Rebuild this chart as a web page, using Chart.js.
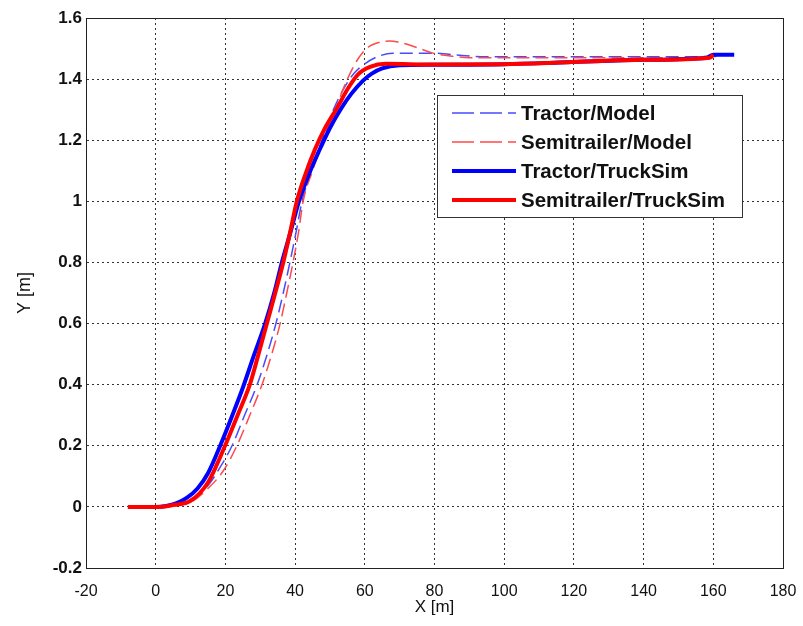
<!DOCTYPE html>
<html>
<head>
<meta charset="utf-8">
<title>Lateral path</title>
<script src="https://cdn.jsdelivr.net/npm/chart.js@4.4.1/dist/chart.umd.min.js"></script>
<style>
  html, body { margin: 0; padding: 0; background: #fff; }
  #wrap { width: 803px; height: 626px; position: relative; }
</style>
</head>
<body>
<div id="wrap"><canvas id="pathChart" width="803" height="626"></canvas></div>
<script>
// tick labels
const xTickLabels = ['-20', '0', '20', '40', '60', '80', '100', '120', '140', '160', '180'];
const yTickLabels = ['-0.2', '0', '0.2', '0.4', '0.6', '0.8', '1', '1.2', '1.4', '1.6'];

// Tractor / model (dashed)
const tractorModelX = [0, 5, 10, 15, 18.5, 21.9, 25.5, 29.1, 32, 34.5, 36.6, 38.5, 40.3, 42, 45, 48, 51, 54, 57, 60, 64, 68, 80, 88, 95, 120, 140, 160, 163];
const tractorModelY = [0, 0.005, 0.02, 0.07, 0.13, 0.2, 0.3, 0.4, 0.5, 0.6, 0.7, 0.8, 0.9, 1.0, 1.11, 1.21, 1.3, 1.37, 1.42, 1.45, 1.475, 1.485, 1.485, 1.477, 1.473, 1.473, 1.473, 1.474, 1.48];

// Semitrailer / model (dashed)
const semiModelX = [0, 5, 10, 15, 19.5, 23.3, 27, 30.5, 33.3, 35.7, 37.6, 39.4, 41, 42.3, 45, 48, 51.5, 55, 58, 61, 64, 67.2, 70, 73, 76.5, 79.6, 85, 90, 120, 140, 160];
const semiModelY = [0, 0.003, 0.015, 0.06, 0.12, 0.2, 0.3, 0.4, 0.5, 0.6, 0.7, 0.8, 0.9, 1.0, 1.1, 1.2, 1.3, 1.4, 1.465, 1.505, 1.52, 1.525, 1.52, 1.511, 1.497, 1.485, 1.475, 1.47, 1.47, 1.47, 1.47];

// Tractor / TruckSim
const tractorSimX = [-7.5, 0, 3, 6, 9, 12, 15, 18.5, 22, 25, 28, 31.4, 34, 36.2, 38.7, 41.1, 44, 47, 50, 53, 56, 59.5, 62, 65, 70, 80, 100, 118, 140, 158, 160, 166];
const tractorSimY = [0, 0, 0.003, 0.012, 0.03, 0.06, 0.11, 0.2, 0.3, 0.39, 0.49, 0.6, 0.7, 0.8, 0.9, 1.0, 1.09, 1.168, 1.24, 1.3, 1.35, 1.395, 1.418, 1.435, 1.445, 1.447, 1.449, 1.455, 1.463, 1.47, 1.48, 1.48];

// Semitrailer / TruckSim
const semiSimX = [-8, 1, 5, 10, 15, 19.9, 23.5, 27, 29.5, 31.9, 34.3, 36.6, 38.6, 40.5, 43, 45.7, 48.6, 52, 55.2, 58, 61.5, 66, 80, 100, 118, 140, 159, 160];
const semiSimY = [0, 0, 0.006, 0.02, 0.08, 0.2, 0.3, 0.4, 0.5, 0.6, 0.7, 0.8, 0.9, 1.0, 1.09, 1.17, 1.24, 1.305, 1.37, 1.415, 1.44, 1.45, 1.448, 1.449, 1.455, 1.463, 1.47, 1.48];

const pts = (xs, ys) => xs.map((x, i) => ({ x, y: ys[i] }));

const datasets = [
  { label: 'Tractor/Model', data: pts(tractorModelX, tractorModelY), borderColor: '#4a4aff', borderWidth: 1.5, borderDash: [13, 6], order: 3 },
  { label: 'Semitrailer/Model', data: pts(semiModelX, semiModelY), borderColor: '#ff4a4a', borderWidth: 1.5, borderDash: [13, 6], order: 2 },
  { label: 'Tractor/TruckSim', data: pts(tractorSimX, tractorSimY), borderColor: '#0000ff', borderWidth: 4, order: 1 },
  { label: 'Semitrailer/TruckSim', data: pts(semiSimX, semiSimY), borderColor: '#ff0000', borderWidth: 4, order: 0 }
].map(d => Object.assign({ showLine: true, pointRadius: 0, fill: false, cubicInterpolationMode: 'monotone', borderCapStyle: 'butt' }, d));

// full box around the axes plus a boxed legend in the upper right
const frameAndLegend = {
  id: 'frameAndLegend',
  afterDatasetsDraw(chart) {
    const { ctx, chartArea: a } = chart;
    ctx.save();
    ctx.strokeStyle = '#222';
    ctx.lineWidth = 1;
    ctx.strokeRect(a.left + 0.5, a.top + 0.5, a.right - a.left, a.bottom - a.top);

    const box = { x: 437, y: 95, w: 305, h: 122 };
    ctx.fillStyle = '#fff';
    ctx.fillRect(box.x, box.y, box.w, box.h);
    ctx.strokeStyle = '#333';
    ctx.strokeRect(box.x + 0.5, box.y + 0.5, box.w, box.h);

    const rows = [113, 142, 171, 200];
    ctx.font = 'bold 20.5px "Liberation Sans", Arial, sans-serif';
    ctx.textBaseline = 'middle';
    chart.data.datasets.forEach((ds, i) => {
      const y = rows[i];
      ctx.beginPath();
      ctx.strokeStyle = ds.borderColor;
      ctx.lineWidth = ds.borderDash ? 1.5 : 4;
      ctx.setLineDash(ds.borderDash ? [22, 6] : []);
      ctx.moveTo(452, y);
      ctx.lineTo(516, y);
      ctx.stroke();
      ctx.setLineDash([]);
      ctx.fillStyle = '#111';
      ctx.fillText(ds.label, 521, y + 1);
    });
    ctx.restore();
  }
};

new Chart(document.getElementById('pathChart').getContext('2d'), {
  type: 'scatter',
  data: { datasets },
  plugins: [frameAndLegend],
  options: {
    responsive: false,
    animation: false,
    layout: { padding: { top: 18, right: 20, left: 0, bottom: 0 } },
    plugins: { legend: { display: false }, tooltip: { enabled: false } },
    scales: {
      x: {
        type: 'linear',
        min: -20, max: 180,
        afterFit: s => { s.height = 58; s.paddingLeft = 0; s.paddingRight = 0; },
        ticks: {
          stepSize: 20,
          color: '#111',
          padding: 14,
          font: { family: '"Liberation Sans", Arial, sans-serif', size: 16 },
          callback: (v, i) => xTickLabels[i]
        },
        grid: { color: '#333', lineWidth: 1, drawTicks: false },
        border: { display: true, color: '#222', dash: [2, 3] },
        title: {
          display: true, text: 'X [m]', color: '#111',
          font: { family: '"Liberation Sans", Arial, sans-serif', size: 17 },
          padding: { top: 0, bottom: 8 }
        }
      },
      y: {
        type: 'linear',
        min: -0.2, max: 1.6,
        afterFit: s => { s.width = 86; s.paddingTop = 0; s.paddingBottom = 0; },
        ticks: {
          stepSize: 0.2,
          color: '#111',
          padding: 4,
          font: { family: '"Liberation Sans", Arial, sans-serif', size: 17, weight: 'bold' },
          callback: (v, i) => yTickLabels[i]
        },
        grid: { color: '#333', lineWidth: 1, drawTicks: false },
        border: { display: true, color: '#222', dash: [2, 3] },
        title: {
          display: true, text: 'Y [m]', color: '#111',
          font: { family: '"Liberation Sans", Arial, sans-serif', size: 18 },
          padding: { top: 14, bottom: 0 }
        }
      }
    }
  }
});
</script>
</body>
</html>
